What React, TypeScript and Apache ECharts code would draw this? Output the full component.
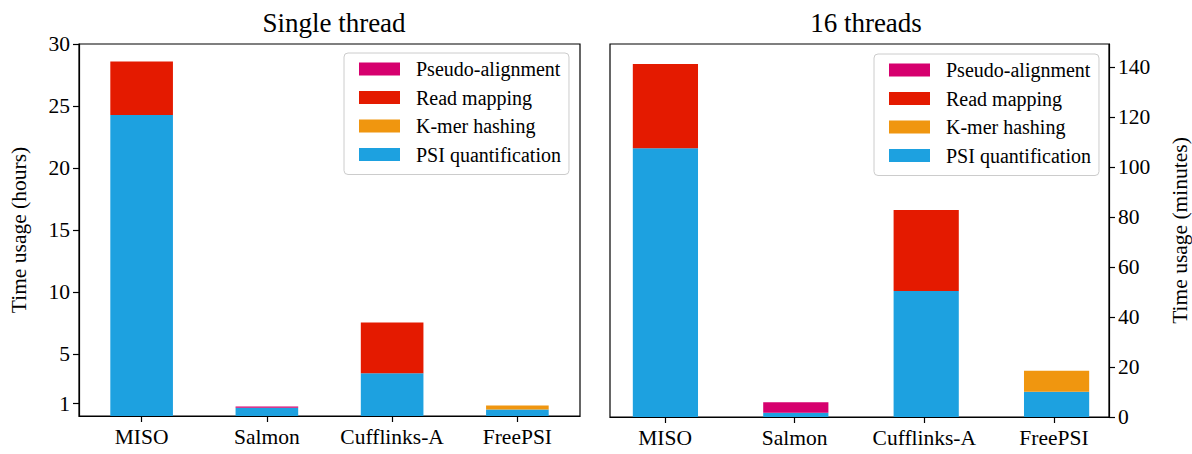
import React, { useEffect, useRef } from "react";
import * as echarts from "echarts";

const categories = ["MISO", "Salmon", "Cufflinks-A", "FreePSI"];
const seriesNames = ["PSI quantification", "K-mer hashing", "Read mapping", "Pseudo-alignment"];
const legendOrder = ["Pseudo-alignment", "Read mapping", "K-mer hashing", "PSI quantification"];
const colors = ["#1da1e0", "#f0960f", "#e41a00", "#d6006e"];

// Single thread (hours)
const singlePsi = [24.27, 0.66, 3.45, 0.53];
const singleKmer = [0, 0, 0, 0.32];
const singleRead = [4.31, 0, 4.1, 0];
const singlePseudo = [0, 0.11, 0, 0];

// 16 threads (minutes)
const multiPsi = [107.5, 1.7, 50.4, 10.1];
const multiKmer = [0, 0, 0, 8.4];
const multiRead = [33.7, 0, 32.4, 0];
const multiPseudo = [0, 4.2, 0, 0];

const leftTicks = [1, 5, 10, 15, 20, 25, 30];
const rightTicks = [0, 20, 40, 60, 80, 100, 120, 140];
const catTicks = [0, 1, 2, 3];

const FONT = "'Liberation Serif', 'DejaVu Serif', serif";

export default function App() {
  const ref = useRef<HTMLDivElement>(null);
  useEffect(() => {
    if (!ref.current) return;
    const chart = echarts.init(ref.current, undefined, { renderer: "svg" });
    const singleData = [singlePsi, singleKmer, singleRead, singlePseudo];
    const multiData = [multiPsi, multiKmer, multiRead, multiPseudo];

    const axisLine = { show: true, onZero: false, lineStyle: { color: "#000", width: 1.2 } };
    const tickStyle = { color: "#000", width: 1.2 };
    const labelStyle = { fontFamily: FONT, fontSize: 21.5, color: "#000" };

    // right panel geometry: frame 610..1112, x range -0.425..3.425 (matplotlib margins)
    const rFrameLeft = 610;
    const rFrameWidth = 502;
    const unit = rFrameWidth / 3.85;
    const rDataLeft = rFrameLeft - 0.075 * unit;
    const rDataWidth = 4 * unit;
    const rightMax = 149.2;

    const series: any[] = [];
    seriesNames.forEach((name, i) => {
      series.push({
        type: "bar",
        name,
        xAxisIndex: 0,
        yAxisIndex: 0,
        stack: "left",
        barWidth: "50%",
        itemStyle: { color: colors[i] },
        data: singleData[i],
      });
      series.push({
        type: "bar",
        name,
        xAxisIndex: 1,
        yAxisIndex: 1,
        stack: "right",
        barWidth: "50%",
        itemStyle: { color: colors[i] },
        data: multiData[i],
      });
    });

    const legendBase = {
      orient: "vertical",
      data: legendOrder,
      itemWidth: 41,
      itemHeight: 13,
      itemGap: 8.5,
      icon: "rect",
      backgroundColor: "#fff",
      borderColor: "#cccccc",
      borderWidth: 1,
      borderRadius: 4,
      padding: [6, 8, 10, 15],
      textStyle: { fontFamily: FONT, fontSize: 20, color: "#000", padding: [0, 0, 0, 11] },
      selectedMode: false,
    };

    chart.setOption({
      animation: false,
      backgroundColor: "#fff",
      title: [
        { text: "Single thread", left: 329, top: 4, textAlign: "center", textStyle: { fontFamily: FONT, fontSize: 27, fontWeight: "normal", color: "#000" } },
        { text: "16 threads", left: 861, top: 4, textAlign: "center", textStyle: { fontFamily: FONT, fontSize: 27, fontWeight: "normal", color: "#000" } },
      ],
      legend: [
        { ...legendBase, left: 344, top: 53 },
        { ...legendBase, left: 874, top: 54 },
      ],
      grid: [
        { left: 79, top: 44, width: 501, height: 372, show: true, borderColor: "#000", borderWidth: 1.2, backgroundColor: "transparent" },
        { left: rDataLeft, top: 44, width: rDataWidth, height: 373, show: false },
        { left: rFrameLeft, top: 44, width: rFrameWidth, height: 373, show: true, borderColor: "#000", borderWidth: 1.2, backgroundColor: "transparent" },
      ],
      xAxis: [
        {
          type: "category",
          gridIndex: 0,
          data: categories,
          boundaryGap: true,
          axisLine,
          axisTick: { show: true, alignWithLabel: true, interval: 0, length: 6, lineStyle: tickStyle },
          axisLabel: { ...labelStyle, interval: 0, hideOverlap: false, margin: 10 },
        },
        {
          type: "category",
          gridIndex: 1,
          data: categories,
          boundaryGap: true,
          show: false,
        },
        {
          type: "value",
          gridIndex: 2,
          min: -0.425,
          max: 3.425,
          splitLine: { show: false },
          axisLine,
          axisTick: { show: true, customValues: catTicks, length: 6, lineStyle: tickStyle },
          axisLabel: {
            ...labelStyle,
            customValues: catTicks,
            formatter: (v: number) => categories[Math.round(v)] ?? "",
            margin: 10,
          },
        },
      ],
      yAxis: [
        {
          type: "value",
          gridIndex: 0,
          min: 0,
          max: 30,
          splitLine: { show: false },
          axisLine,
          axisTick: { show: true, customValues: leftTicks, length: 6, lineStyle: tickStyle },
          axisLabel: { ...labelStyle, customValues: leftTicks, margin: 9 },
          name: "Time usage (hours)",
          nameLocation: "middle",
          nameRotate: 90,
          nameGap: 49,
          nameTextStyle: labelStyle,
        },
        {
          type: "value",
          gridIndex: 1,
          min: 0,
          max: rightMax,
          show: false,
          splitLine: { show: false },
        },
        {
          type: "value",
          gridIndex: 2,
          position: "right",
          min: 0,
          max: rightMax,
          splitLine: { show: false },
          axisLine,
          axisTick: { show: true, customValues: rightTicks, length: 6, lineStyle: tickStyle },
          axisLabel: { ...labelStyle, customValues: rightTicks, margin: 9 },
          name: "Time usage (minutes)",
          nameLocation: "middle",
          nameRotate: 90,
          nameGap: 60,
          nameTextStyle: labelStyle,
        },
      ],
      series,
    } as any);
    return () => chart.dispose();
  }, []);
  return (
    <div
      ref={ref}
      style={{ position: "fixed", left: 0, top: 0, width: 1192, height: 454, background: "#fff" }}
    />
  );
}
